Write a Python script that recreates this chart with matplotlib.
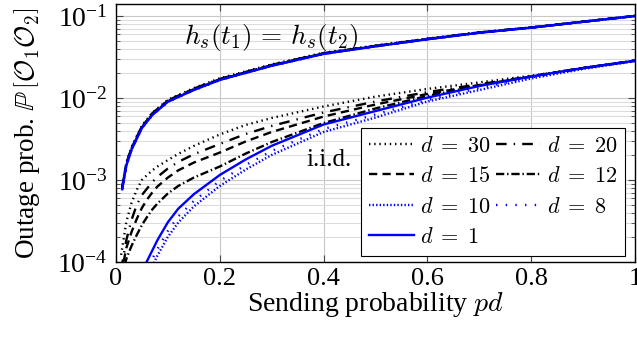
import matplotlib
matplotlib.use("Agg")
import matplotlib.pyplot as plt
from matplotlib.ticker import LogLocator, NullFormatter

plt.rcParams['font.family'] = ['Liberation Serif', 'DejaVu Serif']
plt.rcParams['mathtext.fontset'] = 'cm'

# ---- data ----
x_up = [0.012, 0.02, 0.03, 0.05, 0.07, 0.1, 0.15, 0.2, 0.3, 0.4, 0.5, 0.6, 0.7, 0.8, 0.9, 1.0]
up_d30 = [8.3e-4, 1.62e-3, 2.52e-3, 4.6e-3, 6.6e-3, 9.5e-3, 0.0132, 0.0174, 0.0257, 0.0356, 0.0437, 0.053, 0.0633, 0.0727, 0.0855, 0.1005]
up_d20 = [8.1e-4, 1.58e-3, 2.46e-3, 4.5e-3, 6.5e-3, 9.35e-3, 0.0130, 0.0171, 0.0253, 0.0352, 0.0433, 0.0526, 0.0630, 0.0724, 0.0853, 0.1003]
up_d15 = [8.0e-4, 1.56e-3, 2.43e-3, 4.45e-3, 6.4e-3, 9.25e-3, 0.0128, 0.0169, 0.0251, 0.0350, 0.0431, 0.0524, 0.0628, 0.0723, 0.0852, 0.1002]
up_d12 = [7.9e-4, 1.54e-3, 2.40e-3, 4.4e-3, 6.33e-3, 9.15e-3, 0.0127, 0.0168, 0.0249, 0.0348, 0.0429, 0.0522, 0.0627, 0.0722, 0.0851, 0.1001]
up_d10 = [7.75e-4, 1.51e-3, 2.36e-3, 4.33e-3, 6.24e-3, 9.05e-3, 0.0126, 0.0167, 0.0248, 0.0346, 0.0428, 0.0521, 0.0626, 0.0721, 0.0850, 0.1000]
up_d8 = [7.65e-4, 1.49e-3, 2.33e-3, 4.27e-3, 6.15e-3, 8.9e-3, 0.0124, 0.0165, 0.0246, 0.0343, 0.0425, 0.0518, 0.0623, 0.0718, 0.0848, 0.0998]
up_d1 = [7.7e-4, 1.50e-3, 2.34e-3, 4.3e-3, 6.2e-3, 9.0e-3, 0.0125, 0.0166, 0.0247, 0.0345, 0.0427, 0.0520, 0.0625, 0.0720, 0.0850, 0.1000]

x_low = [0.01, 0.02, 0.03, 0.04, 0.05, 0.06, 0.07, 0.08, 0.1, 0.12, 0.15, 0.2, 0.25, 0.3, 0.4, 0.5, 0.6, 0.7, 0.8, 0.9, 1.0]
low_d30 = [1.22e-4, 3.08e-4, 5.25e-4, 7.55e-4, 1.0e-3, 1.15e-3, 1.31e-3, 1.46e-3, 1.75e-3, 2.08e-3, 2.60e-3, 3.59e-3, 4.69e-3, 5.70e-3, 7.88e-3, 0.0104, 0.0129, 0.0155, 0.0187, 0.0232, 0.0285]
low_d20 = [8.0e-5, 1.85e-4, 3.25e-4, 4.95e-4, 6.56e-4, 7.87e-4, 9.46e-4, 1.09e-3, 1.38e-3, 1.66e-3, 2.06e-3, 2.75e-3, 3.64e-3, 4.56e-3, 6.66e-3, 9.06e-3, 0.0118, 0.0147, 0.0184, 0.0232, 0.0285]
low_d15 = [7.0e-5, 1.48e-4, 2.32e-4, 3.34e-4, 4.56e-4, 5.78e-4, 7.04e-4, 8.34e-4, 1.07e-3, 1.31e-3, 1.63e-3, 2.16e-3, 2.95e-3, 3.85e-3, 5.94e-3, 8.33e-3, 0.0112, 0.0144, 0.0183, 0.0232, 0.0285]
low_d12 = [6.0e-5, 1.09e-4, 1.57e-4, 2.13e-4, 2.82e-4, 3.54e-4, 4.37e-4, 5.16e-4, 6.84e-4, 8.45e-4, 1.07e-3, 1.46e-3, 2.10e-3, 2.90e-3, 4.95e-3, 7.45e-3, 0.0106, 0.0142, 0.0183, 0.0232, 0.0285]
low_d10 = [1.5e-5, 2.2e-5, 2.8e-5, 3.5e-5, 4.3e-5, 6.4e-5, 8.9e-5, 1.20e-4, 2.02e-4, 3.03e-4, 4.75e-4, 8.45e-4, 1.34e-3, 2.02e-3, 3.85e-3, 5.78e-3, 9.06e-3, 0.0125, 0.0173, 0.0226, 0.0281]
low_d8 = [1.6e-5, 2.5e-5, 3.3e-5, 4.3e-5, 5.7e-5, 8.0e-5, 1.09e-4, 1.44e-4, 2.39e-4, 3.59e-4, 5.55e-4, 9.73e-4, 1.52e-3, 2.26e-3, 4.19e-3, 6.29e-3, 9.46e-3, 0.0132, 0.0178, 0.0229, 0.0282]
low_d1 = [1.8e-5, 2.8e-5, 3.7e-5, 4.5e-5, 7.7e-5, 1.03e-4, 1.38e-4, 1.85e-4, 3.05e-4, 4.46e-4, 6.70e-4, 1.15e-3, 1.78e-3, 2.61e-3, 4.75e-3, 6.93e-3, 0.0101, 0.0140, 0.0183, 0.0232, 0.0285]

labels = [r'$d\;=\;30$', r'$d\;=\;20$', r'$d\;=\;15$', r'$d\;=\;12$',
          r'$d\;=\;10$', r'$d\;=\;8$', r'$d\;=\;1$']
x_ticks = [0, 0.2, 0.4, 0.6, 0.8, 1]
x_ticklabels = ['0', '0.2', '0.4', '0.6', '0.8', '1']

styles = [
    dict(color='black', ls=(0, (0.6, 1.6))),
    dict(color='black', ls=(0, (4.5, 3, 0.6, 3))),
    dict(color='black', ls=(0, (3.5, 2.2))),
    dict(color='black', ls=(0, (3.5, 1.2, 0.6, 1.2))),
    dict(color='#0000ff', ls=(0, (0.6, 0.9))),
    dict(color='#0000ff', ls=(0, (0.6, 3.5))),
    dict(color='#0000ff', ls='-'),
]

ups = [up_d30, up_d20, up_d15, up_d12, up_d10, up_d8, up_d1]
lows = [low_d30, low_d20, low_d15, low_d12, low_d10, low_d8, low_d1]

fig = plt.figure(figsize=(6.37, 3.37), dpi=100)
ax = fig.add_axes([0.182, 0.2226, 0.815, 0.7655])

handles = []
for up, low, st, lab in zip(ups, lows, styles, labels):
    lw = 1.7
    h, = ax.plot(x_low, low, lw=lw, label=lab, **st)
    ax.plot(x_up, up, lw=lw, **st)
    handles.append(h)

ax.set_yscale('log')
ax.set_xlim(0, 1)
ax.set_ylim(1e-4, 0.14)
ax.set_xticks(x_ticks)
ax.set_xticklabels(x_ticklabels)
ax.yaxis.set_major_locator(LogLocator(base=10, numticks=10))
ax.yaxis.set_minor_locator(LogLocator(base=10, subs=range(2, 10), numticks=20))
ax.yaxis.set_minor_formatter(NullFormatter())

ax.grid(True, which='major', color='#c8c8c8', lw=0.8)
ax.grid(True, which='minor', axis='y', color='#dcdcdc', lw=0.8)
ax.set_axisbelow(True)
ax.tick_params(which='both', direction='in', top=True, right=True, color='#444444')
ax.tick_params(axis='x', labelsize=19, pad=4)
ax.tick_params(axis='y', labelsize=20, pad=6)
ax.tick_params(which='major', length=5, width=0.8)
ax.tick_params(which='minor', length=3, width=0.6)
for s in ax.spines.values():
    s.set_linewidth(1.0)

ax.set_xlabel('Sending probability $pd$', fontsize=20, labelpad=0)
ax.set_ylabel(r'Outage prob. $\mathbb{P}\,\left[\mathcal{O}_1\mathcal{O}_2\right]$', fontsize=19.5, labelpad=10)

ax.text(0.299, 0.872, r'$h_s(t_1)\,=\,h_s(t_2)$', transform=ax.transAxes, fontsize=19.5,
        ha='center', va='center')
ax.text(0.41, 0.395, 'i.i.d.', transform=ax.transAxes, fontsize=18, ha='center', va='center')

order = [0, 2, 4, 6, 1, 3, 5]
leg = ax.legend([handles[i] for i in order], [labels[i] for i in order], ncol=2,
                loc='lower right', bbox_to_anchor=(0.981, 0.023),
                fontsize=16, frameon=True, fancybox=False, edgecolor='black', framealpha=1,
                handlelength=2.0, handletextpad=0.3, columnspacing=0.2, labelspacing=0.45,
                borderpad=0.35, borderaxespad=0)
leg.get_frame().set_linewidth(0.8)

fig.savefig('out.png', dpi=100)
